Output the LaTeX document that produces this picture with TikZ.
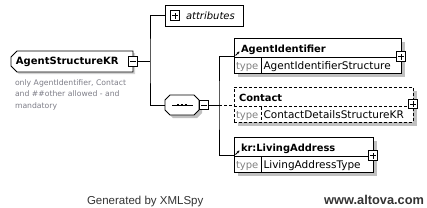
\documentclass[tikz,border=0pt]{standalone}
\usepackage{fontspec}
\setmainfont{DejaVu Sans}
\newfontfamily\footfont{Liberation Sans}
\usetikzlibrary{positioning,arrows.meta,shapes.misc,shadows}
\definecolor{xsshadow}{RGB}{192,192,192}
\definecolor{typegray}{RGB}{128,128,128}
\definecolor{notegray}{RGB}{125,125,135}

\begin{document}
\begin{tikzpicture}[x=1pt, y=-1pt,
  every node/.style={inner sep=0pt, outer sep=0pt},
  ln/.style={line width=0.9pt},
  box/.style={draw, line width=0.9pt, fill=white, anchor=north west},
  elem/.style={box, minimum height=35pt,
               drop shadow={shadow xshift=4pt, shadow yshift=-4pt, fill=xsshadow, opacity=1}},
  optelem/.style={elem, dash pattern=on 3pt off 2pt},
  root/.style={chamfered rectangle, chamfered rectangle corners={north west,south west},
               chamfered rectangle xsep=3pt, chamfered rectangle ysep=3pt,
               draw, line width=0.9pt, fill=white, minimum width=122pt, minimum height=21pt,
               font=\bfseries\fontsize{10}{12}\selectfont,
               drop shadow={shadow xshift=2pt, shadow yshift=-2pt, fill=xsshadow!70, opacity=1}},
  minusbox/.style={draw, line width=0.9pt, fill=white, minimum size=9.5pt,
               path picture={\draw[line width=0.9pt] ([xshift=-3pt]path picture bounding box.center)
                                 -- ([xshift=3pt]path picture bounding box.center);}},
  plusbox/.style={minusbox,
               append after command={[line width=0.9pt] ([yshift=-3pt]\tikzlastnode.center)
                                 edge ([yshift=3pt]\tikzlastnode.center)}},
  ttl/.style={font=\bfseries\fontsize{9.9}{11}\selectfont, anchor=base west},
  tylbl/.style={font=\fontsize{10}{12}\selectfont, text=typegray, anchor=base west},
  tyval/.style={font=\fontsize{10.5}{12}\selectfont, anchor=base west},
  refmark/.style={-{Stealth[length=2.6pt,width=2.8pt]}, line width=0.8pt},
]
\useasboundingbox (0,0) rectangle (427,207);

% root element
\node[root] (rootel) at (72,61.5) {\makebox[112pt][l]{AgentStructureKR}};
\node[minusbox] (rmin) at (133,61.5) {};
\node[font=\fontsize{7.7}{11.6}\selectfont, text=notegray, align=left, anchor=north west]
    (note) at (15,79.5) {only AgentIdentifier, Contact\\and \#\#other allowed - and\\mandatory};

% attributes and sequence
\node[box, minimum width=78pt, minimum height=21pt] (attr) at (165,5) {};
\node[plusbox] (aplus) at (175,15.5) {};
\node[font=\itshape\fontsize{10}{12}\selectfont, anchor=base west] (attrtxt) at (186,19.5) {attributes};

\fill[xsshadow, shift={(3,3)}] (170,95) -- (194,95) -- (199,100) -- (199,110) -- (194,115)
    -- (170,115) -- (165,110) -- (165,100) -- cycle;
\filldraw[ln, fill=white] (170,95) -- (194,95) -- (199,100) -- (199,110) -- (194,115)
    -- (170,115) -- (165,110) -- (165,100) -- cycle;
\node[minimum width=34pt, minimum height=20pt] (seq) at (182,105) {};
\draw[ln] ([xshift=-10pt]seq.center) -- ([xshift=11pt]seq.center);
\draw[line width=2.6pt, dash pattern=on 2.4pt off 1.4pt] ([xshift=-5pt]seq.center) -- ([xshift=6pt]seq.center);
\node[minusbox] (smin) at (204,105) {};

\coordinate (fork1) at (150,61.5);
\coordinate (fork2) at (219,105);

% child elements
\node[elem, minimum width=167pt] (aid) at (234,38) {};
\draw[ln] ([yshift=-19.5pt]aid.north west) -- ([yshift=-19.5pt]aid.north east);
\draw[ln] ([yshift=-19.5pt,xshift=27pt]aid.north west) -- ([xshift=27pt]aid.south west);
\draw[refmark] (235.5,55.5) -- (239.5,51.5);
\node[ttl] (aidname) at (241,52.5) {AgentIdentifier};
\node[tylbl] (aidtl) at (236,69.5) {type};
\node[tyval] (aidtype) at (263.5,69.5) {AgentIdentifierStructure};
\node[plusbox] (aidplus) at (401,56.5) {};

\node[optelem, minimum width=179pt] (con) at (234,87) {};
\draw[ln, dash pattern=on 3pt off 2pt] ([yshift=-19.5pt]con.north west) -- ([yshift=-19.5pt]con.north east);
\draw[ln, dash pattern=on 3pt off 2pt] ([yshift=-19.5pt,xshift=27pt]con.north west) -- ([xshift=27pt]con.south west);
\node[ttl] (conname) at (239,101.5) {Contact};
\node[tylbl] (contl) at (236,118.5) {type};
\node[tyval] (contype) at (263.5,118.5) {ContactDetailsStructureKR};
\node[plusbox] (conplus) at (413,104) {};

\node[elem, minimum width=139pt] (la) at (234,137) {};
\draw[ln] ([yshift=-19.5pt]la.north west) -- ([yshift=-19.5pt]la.north east);
\draw[ln] ([yshift=-19.5pt,xshift=27pt]la.north west) -- ([xshift=27pt]la.south west);
\draw[refmark] (235.5,154.5) -- (239.5,150.5);
\node[ttl] (laname) at (241,151.5) {kr:LivingAddress};
\node[tylbl] (latl) at (236,168.5) {type};
\node[tyval] (latype) at (263.5,168.5) {LivingAddressType};
\node[plusbox] (laplus) at (373,155.5) {};

% connectors
\draw[ln] (rmin.east) -- (fork1);
\draw[ln] (attr.west) -| (fork1) |- (seq.west);
\draw[ln] (smin.east) -- (fork2);
\draw[ln] ([yshift=-18.5pt]aid.north west) -| (fork2) |- ([yshift=-18.5pt]la.north west);
\draw[ln, dash pattern=on 3pt off 2pt] (fork2) -- (con.west |- fork2);

% footer
\node[font=\footfont\fontsize{11.5}{13}\selectfont, text=black!80, anchor=base west] (gen) at (87,204) {Generated by XMLSpy};
\node[font=\footfont\bfseries\fontsize{12.8}{14}\selectfont, text=black!80, anchor=base east] (web) at (424,204) {www.altova.com};
\end{tikzpicture}
\end{document}
